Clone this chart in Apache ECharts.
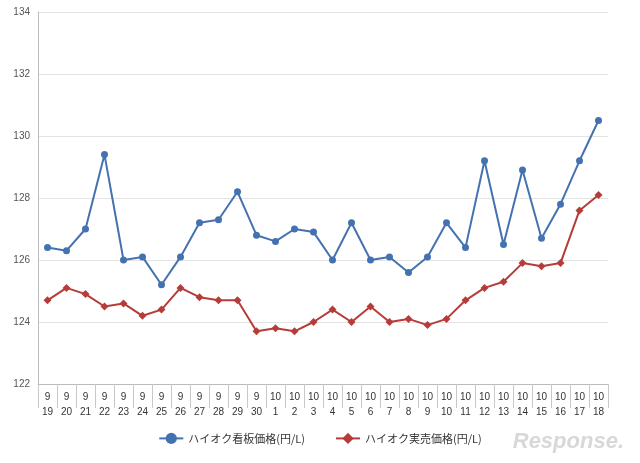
<!DOCTYPE html>
<html>
<head>
<meta charset="utf-8">
<script src="https://cdn.jsdelivr.net/npm/echarts@6/dist/echarts.min.js"></script>
<style>html,body{margin:0;padding:0;background:#fff}#main{width:640px;height:463px}</style>
</head>
<body>
<div id="main"></div>
<script>
var dates = ['9\n19','9\n20','9\n21','9\n22','9\n23','9\n24','9\n25','9\n26','9\n27','9\n28','9\n29','9\n30',
    '10\n1','10\n2','10\n3','10\n4','10\n5','10\n6','10\n7','10\n8','10\n9','10\n10','10\n11','10\n12','10\n13','10\n14','10\n15','10\n16','10\n17','10\n18'];
var kanban = [126.4,126.3,127.0,129.4,126.0,126.1,125.2,126.1,127.2,127.3,128.2,126.8,
    126.6,127.0,126.9,126.0,127.2,126.0,126.1,125.6,126.1,127.2,126.4,129.2,126.5,128.9,126.7,127.8,129.2,130.5];
var jitsubai = [124.7,125.1,124.9,124.5,124.6,124.2,124.4,125.1,124.8,124.7,124.7,123.7,
    123.8,123.7,124.0,124.4,124.0,124.5,124.0,124.1,123.9,124.1,124.7,125.1,125.3,125.9,125.8,125.9,127.6,128.1];

var chart = echarts.init(document.getElementById('main'));
chart.setOption({
    animation: false,
    grid: {left: 38, right: 32, top: 12, bottom: 79},
    legend: {
        bottom: 14, left: 'center', itemWidth: 24, itemGap: 30,
        textStyle: {fontSize: 11, color: '#333', fontFamily: 'Noto Sans CJK JP'},
        data: ['ハイオク看板価格(円/L)', 'ハイオク実売価格(円/L)']
    },
    xAxis: {
        type: 'category', data: dates, boundaryGap: true,
        axisLine: {lineStyle: {color: '#bbb'}},
        axisTick: {show: true, interval: 0, length: 24, lineStyle: {color: '#c8c8c8'}},
        axisLabel: {interval: 0, fontSize: 10, color: '#333', lineHeight: 15, margin: 6}
    },
    yAxis: {
        type: 'value', min: 122, max: 134, interval: 2,
        axisLine: {show: true, lineStyle: {color: '#bbb'}},
        axisLabel: {fontSize: 10, color: '#555'},
        splitLine: {lineStyle: {color: '#e3e3e3'}}
    },
    series: [{
        name: 'ハイオク看板価格(円/L)', type: 'line', data: kanban,
        symbol: 'circle', symbolSize: 7,
        itemStyle: {color: '#4472b0'}, lineStyle: {width: 2, color: '#4472b0'}
    }, {
        name: 'ハイオク実売価格(円/L)', type: 'line', data: jitsubai,
        symbol: 'diamond', symbolSize: 8,
        itemStyle: {color: '#b63c3a'}, lineStyle: {width: 2, color: '#b63c3a'}
    }],
    graphic: [{
        type: 'text', right: 16, bottom: 10,
        style: {text: 'Response.', fontSize: 22, fontStyle: 'italic', fontWeight: 'bold', fill: '#d8d8d8', fontFamily: 'Liberation Sans'}
    }]
});
</script>
</body>
</html>
